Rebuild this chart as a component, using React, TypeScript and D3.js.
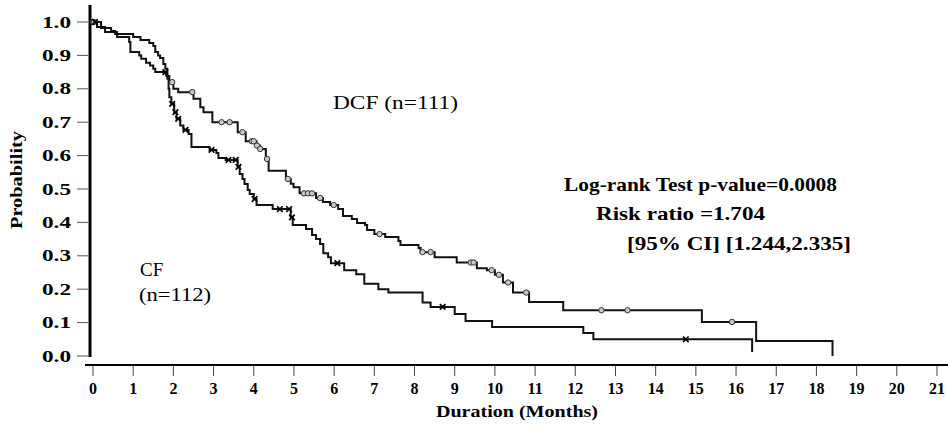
import React from 'react';
import * as d3 from 'd3';

// Kaplan-Meier steps: time of drop (months) and survival after the drop
const dcfTime = [0.2, 0.45, 0.55, 1.0, 1.18, 1.4, 1.5, 1.55, 1.62, 1.67, 1.75, 1.8, 1.85, 1.9, 2.0, 2.12, 2.5, 2.67, 2.75, 2.97, 3.6, 3.8, 4.07, 4.15, 4.3, 4.37, 4.8, 4.92, 4.99, 5.14, 5.55, 5.72, 5.9, 6.1, 6.22, 6.44, 6.57, 6.77, 6.82, 7.0, 7.27, 7.6, 7.65, 8.1, 8.15, 8.5, 9.05, 9.55, 9.8, 10.0, 10.2, 10.45, 10.85, 11.7, 15.15, 16.5, 18.4];
const dcfSurv = [0.982, 0.973, 0.964, 0.955, 0.946, 0.937, 0.928, 0.91, 0.9, 0.892, 0.874, 0.86, 0.838, 0.82, 0.8, 0.79, 0.77, 0.745, 0.73, 0.7, 0.67, 0.643, 0.63, 0.62, 0.59, 0.555, 0.53, 0.516, 0.505, 0.487, 0.473, 0.461, 0.452, 0.44, 0.419, 0.41, 0.398, 0.392, 0.377, 0.365, 0.356, 0.344, 0.332, 0.323, 0.311, 0.296, 0.28, 0.263, 0.257, 0.243, 0.22, 0.19, 0.162, 0.137, 0.102, 0.045, 0];
const dcfCensor = [0.0, 0.02, 1.97, 2.47, 3.2, 3.4, 3.72, 3.95, 4.0, 4.08, 4.16, 4.33, 4.85, 5.25, 5.35, 5.45, 5.65, 5.99, 7.13, 8.2, 8.4, 9.4, 9.47, 9.92, 10.1, 10.33, 10.78, 12.65, 13.3, 15.9];

const cfTime = [0.1, 0.3, 0.6, 0.9, 0.93, 1.15, 1.2, 1.32, 1.42, 1.5, 1.55, 1.82, 1.85, 1.88, 1.9, 1.95, 2.02, 2.08, 2.17, 2.25, 2.38, 2.45, 2.9, 3.07, 3.12, 3.3, 3.6, 3.65, 3.72, 3.77, 3.85, 3.9, 4.0, 4.07, 4.47, 4.92, 4.97, 5.3, 5.45, 5.55, 5.65, 5.73, 5.85, 5.92, 6.25, 6.55, 6.75, 7.1, 7.35, 8.2, 8.4, 9.0, 9.27, 9.93, 12.2, 12.45, 16.4];
const cfSurv = [0.985, 0.97, 0.955, 0.94, 0.91, 0.9, 0.89, 0.878, 0.87, 0.86, 0.85, 0.84, 0.83, 0.8, 0.775, 0.755, 0.73, 0.71, 0.69, 0.677, 0.665, 0.626, 0.617, 0.608, 0.593, 0.587, 0.566, 0.545, 0.53, 0.515, 0.497, 0.485, 0.47, 0.452, 0.44, 0.415, 0.392, 0.38, 0.362, 0.35, 0.335, 0.308, 0.296, 0.278, 0.257, 0.245, 0.216, 0.2, 0.19, 0.16, 0.147, 0.126, 0.105, 0.087, 0.069, 0.05, 0.012];
const cfCensor = [0.05, 1.8, 1.97, 2.05, 2.12, 2.3, 2.95, 3.37, 3.55, 3.62, 4.02, 4.65, 4.88, 4.95, 6.08, 8.7, 14.75];

const xTicks = [0, 1, 2, 3, 4, 5, 6, 7, 8, 9, 10, 11, 12, 13, 14, 15, 16, 17, 18, 19, 20, 21];
const yTicks = [0, 0.1, 0.2, 0.3, 0.4, 0.5, 0.6, 0.7, 0.8, 0.9, 1.0];

const FONT = '"Liberation Serif", "Times New Roman", serif';

const survAt = (times: number[], surv: number[], t: number) => {
  let p = 1;
  times.forEach((ti, i) => {
    if (ti <= t) p = surv[i];
  });
  return p;
};

const App: React.FC = () => {
  const width = 948;
  const height = 430;

  const x = d3.scaleLinear().domain([0, 21]).range([93, 937]);
  const y = d3.scaleLinear().domain([0, 1]).range([356, 22]);

  const stepLine = d3
    .line<[number, number]>()
    .x((d) => x(d[0]))
    .y((d) => y(d[1]))
    .curve(d3.curveStepAfter);

  const dcfPts: [number, number][] = [[0, 1], ...dcfTime.map((t, i) => [t, dcfSurv[i]] as [number, number])];
  const cfPts: [number, number][] = [[0, 1], ...cfTime.map((t, i) => [t, cfSurv[i]] as [number, number])];

  return (
    <svg
      width={width}
      height={height}
      style={{ position: 'absolute', left: 0, top: 0, background: '#fff' }}
      fontFamily={FONT}
    >
      {/* y axis */}
      <line x1={90} x2={90} y1={5} y2={357} stroke="#000" strokeWidth={3} />
      {yTicks.map((t) => (
        <g key={t}>
          <line x1={77} x2={88} y1={y(t)} y2={y(t)} stroke="#555" strokeWidth={1} />
          <text
            x={71}
            y={y(t)}
            dy="0.35em"
            textAnchor="end"
            fontSize={16}
            fontWeight="bold"
            textLength={29}
            lengthAdjust="spacingAndGlyphs"
          >
            {t.toFixed(1)}
          </text>
        </g>
      ))}
      <text
        transform="translate(22,180) rotate(-90)"
        textAnchor="middle"
        fontSize={16}
        fontWeight="bold"
        textLength={98}
        lengthAdjust="spacingAndGlyphs"
      >
        Probability
      </text>

      {/* x axis */}
      <line x1={85} x2={948} y1={365} y2={365} stroke="#000" strokeWidth={2} />
      {xTicks.map((t) => (
        <g key={t}>
          <line x1={x(t)} x2={x(t)} y1={366} y2={376} stroke="#444" strokeWidth={1} />
          <text x={x(t)} y={394} textAnchor="middle" fontSize={16} fontWeight="bold">
            {t}
          </text>
        </g>
      ))}
      <text
        x={517}
        y={417}
        textAnchor="middle"
        fontSize={17}
        fontWeight="bold"
        textLength={162}
        lengthAdjust="spacingAndGlyphs"
      >
        Duration (Months)
      </text>

      {/* curves */}
      <path d={stepLine(dcfPts) ?? ''} fill="none" stroke="#111" strokeWidth={2} />
      <path d={stepLine(cfPts) ?? ''} fill="none" stroke="#111" strokeWidth={2} />

      {dcfCensor.map((t, i) => (
        <circle
          key={`c${i}`}
          cx={x(t)}
          cy={y(survAt(dcfTime, dcfSurv, t))}
          r={2.7}
          fill="#c8c8c8"
          stroke="#333"
          strokeWidth={1}
        />
      ))}
      {cfCensor.map((t, i) => {
        const cx = x(t);
        const cy = y(survAt(cfTime, cfSurv, t));
        const s = 2.8;
        return (
          <g key={`x${i}`} stroke="#000" strokeWidth={1.7}>
            <line x1={cx - s} x2={cx + s} y1={cy - s} y2={cy + s} />
            <line x1={cx - s} x2={cx + s} y1={cy + s} y2={cy - s} />
          </g>
        );
      })}

      {/* annotations */}
      <text x={333} y={109} fontSize={18} textLength={125} lengthAdjust="spacingAndGlyphs">
        DCF (n=111)
      </text>
      <text x={140} y={276} fontSize={19}>
        CF
      </text>
      <text x={139} y={301} fontSize={19} textLength={72} lengthAdjust="spacingAndGlyphs">
        (n=112)
      </text>
      <text x={564} y={191} fontSize={19} fontWeight="bold" textLength={273} lengthAdjust="spacingAndGlyphs">
        Log-rank Test p-value=0.0008
      </text>
      <text x={596} y={220} fontSize={19} fontWeight="bold" textLength={169} lengthAdjust="spacingAndGlyphs">
        Risk ratio =1.704
      </text>
      <text x={627} y={250} fontSize={19} fontWeight="bold" textLength={224} lengthAdjust="spacingAndGlyphs">
        [95% CI] [1.244,2.335]
      </text>
    </svg>
  );
};

export default App;
